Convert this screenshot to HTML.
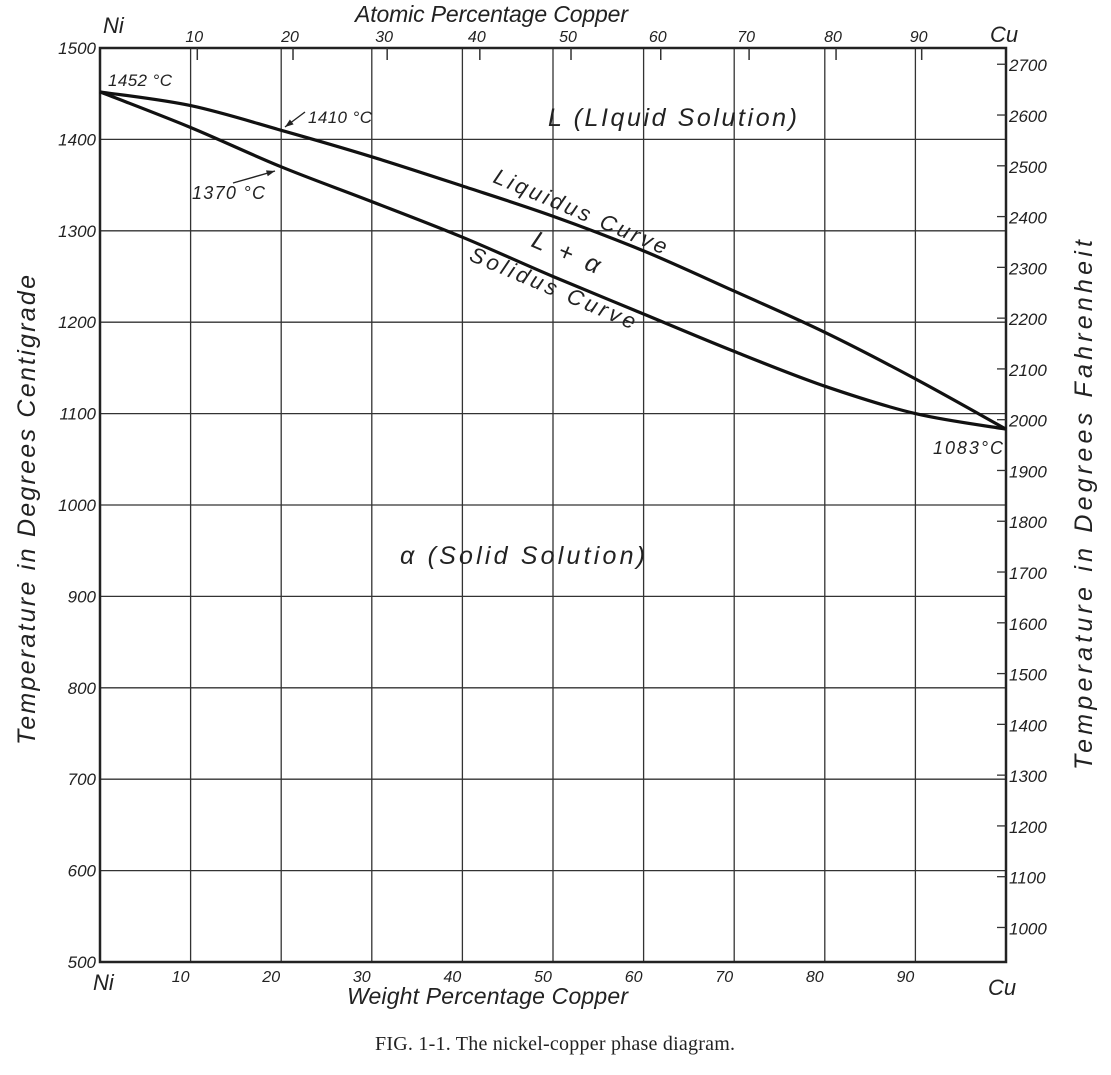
<!DOCTYPE html>
<html><head><meta charset="utf-8"><style>
html,body{margin:0;padding:0;background:#fff;}
svg{display:block;}
text{font-family:"Liberation Sans",sans-serif;font-style:italic;fill:#222;}
</style></head><body>
<svg width="1111" height="1075" viewBox="0 0 1111 1075" xmlns="http://www.w3.org/2000/svg">
<g id="grid"></g>
<g id="curves"></g>
<g id="labels"></g>
</svg>
<script>
const weightTicks=[10,20,30,40,50,60,70,80,90];
const tempTicks=[500,600,700,800,900,1000,1100,1200,1300,1400,1500];
const fahrTicks=[1000,1100,1200,1300,1400,1500,1600,1700,1800,1900,2000,2100,2200,2300,2400,2500,2600,2700];
const atomicTicks=[10,20,30,40,50,60,70,80,90];
const liqW=[0,10,20,30,40,50,60,70,80,90,100];
const liqT=[1452,1437,1410,1381,1349,1316,1278,1234,1189,1138,1083];
const solW=[0,10,20,30,40,50,60,70,80,90,100];
const solT=[1452,1413,1370,1332,1293,1250,1209,1168,1130,1100,1083];
const X0=100,X1=1006,Y0=48,Y1=962;
const xs=w=>X0+(X1-X0)*w/100;
const ys=t=>Y1-(Y1-Y0)*(t-500)/1000;
const NS="http://www.w3.org/2000/svg";
function mk(p,tag,a){const e=document.createElementNS(NS,tag);for(const k in a)e.setAttribute(k,a[k]);p.appendChild(e);return e;}
const G=document.getElementById('grid'),C=document.getElementById('curves'),L=document.getElementById('labels');
function txt(x,y,s,size,anchor,name,rot,len){const e=mk(L,'text',{x:x,y:y,'font-size':size,'text-anchor':anchor||'start'});if(rot)e.setAttribute('transform',`rotate(${rot} ${x} ${y})`);if(len){e.setAttribute('textLength',len);e.setAttribute('lengthAdjust','spacing');}e.textContent=s;

return e;}
weightTicks.forEach(w=>{const l=mk(G,'line',{x1:xs(w),x2:xs(w),y1:Y0,y2:Y1,stroke:'#333','stroke-width':1.3});


txt(xs(w)-10,Y1+20,String(w),16,'middle','x-tick-'+w);});
tempTicks.forEach(t=>{const l=mk(G,'line',{x1:X0,x2:X1,y1:ys(t),y2:ys(t),stroke:'#333','stroke-width':1.3});


txt(X0-4,ys(t)+6,String(t),17,'end','y-tick-'+t);});
const fr=mk(G,'rect',{x:X0,y:Y0,width:X1-X0,height:Y1-Y0,fill:'none',stroke:'#222','stroke-width':2.5});


fahrTicks.forEach(f=>{const y=ys((f-32)/1.8);const l=mk(G,'line',{x1:X1-9,x2:X1,y1:y,y2:y,stroke:'#333','stroke-width':1.3});


txt(X1+3,y+7,String(f),17,'start','f-label-'+f);});
atomicTicks.forEach(a=>{const w=100*(a*63.55)/(a*63.55+(100-a)*58.69);const x=xs(w);
const l=mk(G,'line',{x1:x,x2:x,y1:Y0,y2:Y0+12,stroke:'#333','stroke-width':1.5});


txt(x-3,Y0-6,String(a),16,'middle','atomic-label-'+a);});
function curve(W,T,name){const P=W.map((w,i)=>[xs(w),ys(T[i])]);let d='M'+P[0][0].toFixed(1)+','+P[0][1].toFixed(1);
for(let i=0;i<P.length-1;i++){const p0=P[Math.max(0,i-1)],p1=P[i],p2=P[i+1],p3=P[Math.min(P.length-1,i+2)];
const c1=[p1[0]+(p2[0]-p0[0])/6,p1[1]+(p2[1]-p0[1])/6],c2=[p2[0]-(p3[0]-p1[0])/6,p2[1]-(p3[1]-p1[1])/6];
d+=` C${c1[0].toFixed(1)},${c1[1].toFixed(1)} ${c2[0].toFixed(1)},${c2[1].toFixed(1)} ${p2[0].toFixed(1)},${p2[1].toFixed(1)}`;}
const p=mk(C,'path',{d:d,fill:'none',stroke:'#111','stroke-width':3.2,'stroke-linejoin':'round'});

}
curve(liqW,liqT,'liquidus-curve');curve(solW,solT,'solidus-curve');
txt(355,22,'Atomic Percentage Copper',23,'start','top-axis-title',0,273);
txt(347,1004,'Weight Percentage Copper',23,'start','bottom-axis-title',0,281);
txt(103,33,'Ni',22,'start','ni-top');txt(93,990,'Ni',22,'start','ni-bottom');
txt(990,42,'Cu',22,'start','cu-top');txt(988,995,'Cu',22,'start','cu-bottom');
txt(35,510,'Temperature in Degrees Centigrade',25,'middle','y-axis-title',-90,470);
txt(1092,505,'Temperature in Degrees Fahrenheit',25,'middle','right-axis-title',-90,530);
txt(108,86,'1452 °C',17,'start','label-1452',0,64);
txt(308,123,'1410 °C',17,'start','label-1410',0,64);
txt(192,199,'1370 °C',18,'start','label-1370',0,73);
txt(933,454,'1083°C',18,'start','label-1083',0,70);
txt(548,126,'L (LIquid Solution)',25,'start','region-liquid',0,249);
txt(400,564,'α (Solid Solution)',25,'start','region-solid',0,245);
txt(492,182,'Liquidus Curve',22,'start','liquidus-label',23,186);
txt(530,246,'L + α',25,'start','two-phase-label',23,72);
txt(468,260,'Solidus Curve',22,'start','solidus-label',23,178);
const ar=[[305,112,285,127],[233,183,275,171]];
ar.forEach((a,i)=>{const l=mk(L,'line',{x1:a[0],y1:a[1],x2:a[2],y2:a[3],stroke:'#222','stroke-width':1.4});


const ang=Math.atan2(a[3]-a[1],a[2]-a[0]);const h=mk(L,'path',{d:`M${a[2]},${a[3]} L${a[2]-9*Math.cos(ang-0.35)},${a[3]-9*Math.sin(ang-0.35)} L${a[2]-9*Math.cos(ang+0.35)},${a[3]-9*Math.sin(ang+0.35)} Z`,fill:'#222'});

});
const cap=mk(L,'text',{x:555,y:1050,'font-size':20,'text-anchor':'middle',textLength:360,lengthAdjust:'spacing',style:'font-family:"Liberation Serif",serif;font-style:normal'});
cap.textContent='FIG. 1-1. The nickel-copper phase diagram.';


</script>
</body></html>
